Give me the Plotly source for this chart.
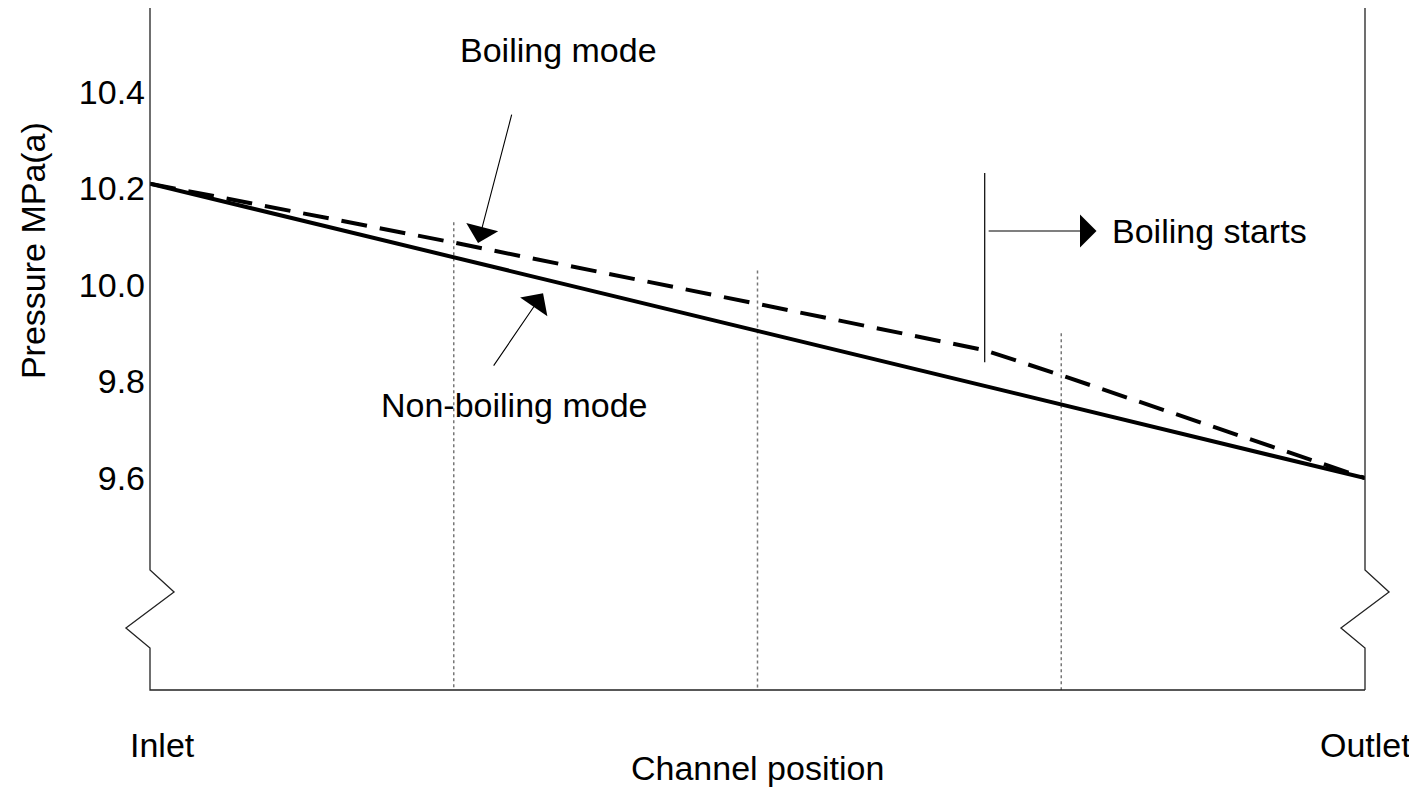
import plotly.graph_objects as go

# channel position, 0 = inlet, 1 = outlet
position = [0.0, 0.25, 0.5, 0.75, 1.0]
non_boiling = [10.21, 10.057, 9.905, 9.752, 9.60]

boil_position = [0.0, 0.25, 0.5, 0.687, 0.75, 1.0]
boiling = [10.21, 10.088, 9.961, 9.865, 9.813, 9.60]

# dotted guide lines (x, top value)
guide_x = [0.25, 0.5, 0.75]
guide_top = [10.13, 10.03, 9.90]

boiling_start = 0.687
boiling_marker = [10.232, 9.840]

y_ticks = [9.6, 9.8, 10.0, 10.2, 10.4]
y_ticklabels = ["9.6", "9.8", "10.0", "10.2", "10.4"]
x_ticks = [0.0, 1.0]
x_ticklabels = ["Inlet", "Outlet"]

y_min, y_max = 9.161, 10.574
FONT = "Liberation Sans Narrow, Arial Narrow, Liberation Sans, Arial, sans-serif"
FS = 34

fig = go.Figure()

for gx, gt in zip(guide_x, guide_top):
    fig.add_trace(go.Scatter(x=[gx, gx], y=[gt, y_min], mode="lines",
                             line=dict(color="#777777", width=1.5, dash="dot"),
                             hoverinfo="skip"))

fig.add_trace(go.Scatter(x=position, y=non_boiling, mode="lines",
                         line=dict(color="black", width=4), name="Non-boiling mode"))
fig.add_trace(go.Scatter(x=boil_position, y=boiling, mode="lines",
                         line=dict(color="black", width=4, dash="26px,13px"), name="Boiling mode"))

# boiling start marker
fig.add_trace(go.Scatter(x=[boiling_start, boiling_start], y=boiling_marker, mode="lines",
                         line=dict(color="black", width=1.2), hoverinfo="skip"))

# axis frame with break symbols
left = "M 0,1 L 0,0.176 L 0.0198,0.1437 L -0.0198,0.0909 L 0,0.0616 L 0,0 L 1,0"
right = "M 1,1 L 1,0.176 L 1.0198,0.1437 L 0.9802,0.0909 L 1,0.0616 L 1,0"
for p in (left, right):
    fig.add_shape(type="path", path=p, xref="paper", yref="paper",
                  line=dict(color="#222222", width=1.3))

arrow = dict(showarrow=True, arrowhead=1, arrowsize=5, arrowwidth=1.1,
             arrowcolor="black", axref="x", ayref="y", text="")
fig.add_annotation(x=0.270, y=10.087, ax=0.298, ay=10.356, **arrow)
fig.add_annotation(x=0.3235, y=9.983, ax=0.282, ay=9.830, **arrow)
fig.add_annotation(x=0.779, y=10.112, ax=boiling_start + 0.002, ay=10.112, **arrow)

txt = dict(showarrow=False, font=dict(family=FONT, size=FS, color="black"))
fig.add_annotation(x=0.336, y=10.487, text="Boiling mode", xanchor="center", yanchor="middle", **txt)
fig.add_annotation(x=0.300, y=9.751, text="Non-boiling mode", xanchor="center", yanchor="middle", **txt)
fig.add_annotation(x=0.790, y=10.112, text="Boiling starts", xanchor="left", yanchor="middle", **txt)
fig.add_annotation(x=0.5, y=-0.114, xref="paper", yref="paper", text="Channel position",
                   xanchor="center", yanchor="middle", **txt)
fig.add_annotation(x=-0.0963, y=0.645, xref="paper", yref="paper", text="Pressure MPa(a)",
                   textangle=-90, xanchor="center", yanchor="middle", **txt)
for xv, lab, sh in zip(x_ticks, x_ticklabels, [12, 0]):
    fig.add_annotation(x=xv, y=-0.0806, xref="x", yref="paper", text=lab, xshift=sh,
                       xanchor="center", yanchor="middle", **txt)

fig.update_layout(
    width=1409, height=779,
    margin=dict(l=142, r=52, t=0, b=97),
    paper_bgcolor="white", plot_bgcolor="white",
    showlegend=False,
    font=dict(family=FONT, size=FS, color="black"),
    xaxis=dict(range=[0, 1], showgrid=False, zeroline=False, showline=False,
               showticklabels=False, ticks=""),
    yaxis=dict(range=[y_min, y_max], showgrid=False, zeroline=False, showline=False,
               tickvals=y_ticks, ticktext=y_ticklabels, ticks="",
               tickfont=dict(family=FONT, size=FS), ticklabelstandoff=4),
)

fig.write_html("out.html")
